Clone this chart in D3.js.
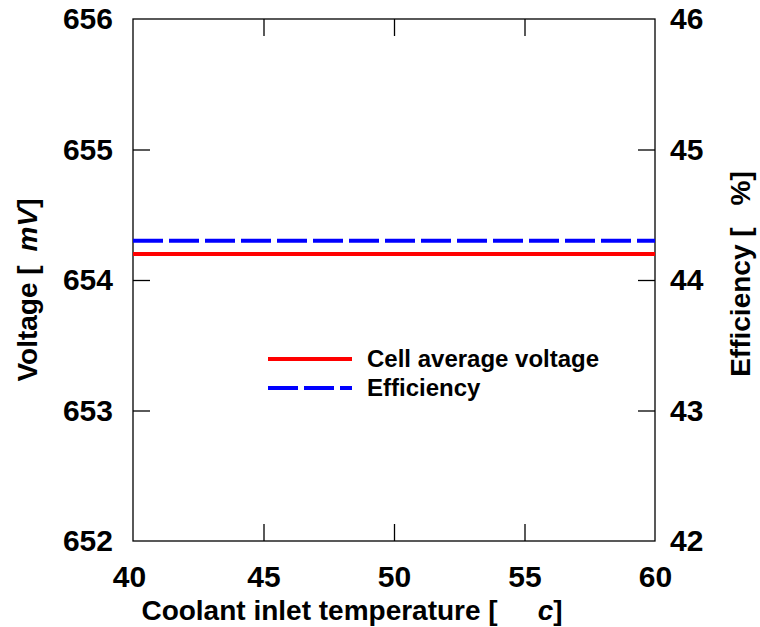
<!DOCTYPE html>
<html>
<head>
<meta charset="utf-8">
<script src="https://cdn.jsdelivr.net/npm/d3@7"></script>
<style>
  body { margin: 0; background: #fff; }
  text { font-family: "Liberation Sans", Arial, sans-serif; font-weight: bold; fill: #000; }
</style>
</head>
<body>
<div class="chart"></div>
<script>
const temps = [40, 45, 50, 55, 60];
const voltage = [654.2, 654.2, 654.2, 654.2, 654.2];
const efficiency = [44.3, 44.3, 44.3, 44.3, 44.3];
const xTicks = [40, 45, 50, 55, 60];
const yTicks = [652, 653, 654, 655, 656];
const y2Ticks = [42, 43, 44, 45, 46];

const w = 760, h = 627;
const padL = 133, padR = 655, padT = 19, padB = 541;
const tickLen = 17;

const svg = d3.select('.chart')
  .append('svg')
  .attr('width', w)
  .attr('height', h)
  .style('background', '#ffffff');

const x = d3.scaleLinear().domain([40, 60]).range([padL, padR]);
const y = d3.scaleLinear().domain([652, 656]).range([padB, padT]);
const y2 = d3.scaleLinear().domain([42, 46]).range([padB, padT]);

// frame
svg.append('rect')
  .attr('x', padL).attr('y', padT)
  .attr('width', padR - padL).attr('height', padB - padT)
  .attr('fill', 'none').attr('stroke', '#000').attr('stroke-width', 1.3);

// ticks, drawn inward on all four sides
const axB = svg.append('g').attr('transform', `translate(0,${padB})`)
  .call(d3.axisBottom(x).tickValues(xTicks).tickFormat(d3.format('d')).tickSize(-tickLen).tickPadding(25));
const axT = svg.append('g').attr('transform', `translate(0,${padT})`)
  .call(d3.axisTop(x).tickValues(xTicks).tickSize(-tickLen).tickFormat(''));
const axL = svg.append('g').attr('transform', `translate(${padL},0)`)
  .call(d3.axisLeft(y).tickValues(yTicks).tickFormat(d3.format('d')).tickSize(-tickLen).tickPadding(20));
const axR = svg.append('g').attr('transform', `translate(${padR},0)`)
  .call(d3.axisRight(y2).tickValues(y2Ticks).tickFormat(d3.format('d')).tickSize(-tickLen).tickPadding(15));

[axB, axT, axL, axR].forEach(g => {
  g.select('.domain').remove();
  g.selectAll('.tick line').attr('stroke', '#000').attr('stroke-width', 1.3);
  g.selectAll('text')
    .attr('font-size', 30)
    .attr('fill', '#000')
    .style('font-family', '"Liberation Sans", Arial, sans-serif')
    .style('font-weight', 'bold');
});
// end ticks sit on the frame
axB.selectAll('.tick line').filter(d => d === 40 || d === 60).remove();
axT.selectAll('.tick line').filter(d => d === 40 || d === 60).remove();
axL.selectAll('.tick line').filter(d => d === 652 || d === 656).remove();
axR.selectAll('.tick line').filter(d => d === 42 || d === 46).remove();
axB.selectAll('.tick').filter(d => d === 40).select('text').attr('dx', -4);

// series
const lineV = d3.line().x((d, i) => x(temps[i])).y(d => y(d));
const lineE = d3.line().x((d, i) => x(temps[i])).y(d => y2(d));

svg.append('path').datum(voltage)
  .attr('fill', 'none').attr('stroke', '#ff0000').attr('stroke-width', 4)
  .attr('d', lineV);

svg.append('path').datum(efficiency)
  .attr('fill', 'none').attr('stroke', '#0000ff').attr('stroke-width', 4)
  .attr('stroke-dasharray', '30,6')
  .attr('d', lineE);

// axis titles
svg.append('text')
  .attr('x', 352).attr('y', 620)
  .attr('text-anchor', 'middle').attr('font-size', 28)
  .call(t => {
    t.append('tspan').text('Coolant inlet temperature [');
    t.append('tspan').attr('dx', 40).attr('font-style', 'italic').text('c');
    t.append('tspan').text(']');
  });

svg.append('text')
  .attr('transform', 'translate(37,290) rotate(-90)')
  .attr('text-anchor', 'middle').attr('font-size', 28)
  .call(t => {
    t.append('tspan').text('Voltage [');
    t.append('tspan').attr('dx', 14).attr('font-style', 'italic').text('mV');
    t.append('tspan').text(']');
  });

svg.append('text')
  .attr('transform', 'translate(750,274) rotate(-90)')
  .attr('text-anchor', 'middle').attr('font-size', 28)
  .call(t => {
    t.append('tspan').text('Efficiency [');
    t.append('tspan').attr('dx', 22).text('%');
    t.append('tspan').text(']');
  });

// legend
const legend = svg.append('g').attr('transform', 'translate(268,359)');
const items = [
  { label: 'Cell average voltage', color: '#ff0000', dash: null },
  { label: 'Efficiency', color: '#0000ff', dash: '30,6' }
];
items.forEach((it, i) => {
  const g = legend.append('g').attr('transform', `translate(0,${i * 29})`);
  g.append('line').attr('x1', 0).attr('x2', 84).attr('y1', 0).attr('y2', 0)
    .attr('stroke', it.color).attr('stroke-width', 4)
    .attr('stroke-dasharray', it.dash);
  g.append('text').attr('x', 99).attr('y', 8).attr('font-size', 24)
    .text(it.label);
});
</script>
</body>
</html>
